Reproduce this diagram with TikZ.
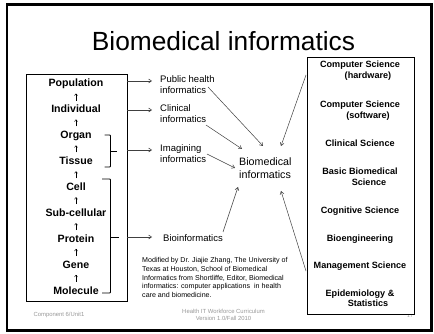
\documentclass[tikz,border=0pt]{standalone}
\usepackage{fontspec}
\setmainfont{Liberation Sans}
\usetikzlibrary{arrows.meta,calc}
\begin{document}
\begin{tikzpicture}[x=1pt,y=-1pt,
  lft/.style={font=\fontsize{10.6}{12}\selectfont\bfseries, inner sep=0pt, text height=7.6pt, text depth=2.2pt},
  upar/.style={-{Straight Barb[length=1.8pt,width=3pt]}, line width=0.45pt, shorten >=4.3pt, shorten <=4.3pt},
  mid/.style={font=\fontsize{9.5}{11.3}\selectfont, align=left, inner sep=0pt, anchor=north west},
  rgt/.style={font=\fontsize{9.1}{11}\selectfont\bfseries, align=center, inner sep=0pt, anchor=north},
  arr/.style={-{Straight Barb[length=3pt,width=4pt]}, line width=0.5pt, draw=black!75},
  brk/.style={line width=0.8pt, rounded corners=0.8pt},
  foot/.style={font=\fontsize{5.9}{7}\selectfont, text=black!40, inner sep=0pt}
]
\useasboundingbox (0,0) rectangle (434,334);
\fill[white] (0,0) rectangle (434,334);
\draw[line width=2.8pt] (7,4.7) rectangle (431.5,330.5);

% title
\node[font=\fontsize{26.3}{30}\selectfont, inner sep=0pt, anchor=base] (title) at (223.5,50.7) {Biomedical informatics};

% left box and levels
\node[draw, line width=0.8pt, minimum width=101pt, minimum height=227pt, inner sep=0pt] (lbox) at (76.5,187.5) {};
\node[lft] (pop) at (76,84.1) {Population};
\node[lft] (ind) at (76,110.0) {Individual};
\node[lft] (org) at (76,135.9) {Organ};
\node[lft] (tis) at (76,161.8) {Tissue};
\node[lft] (cel) at (76,187.7) {Cell};
\node[lft] (sub) at (76,213.6) {Sub-cellular};
\node[lft] (pro) at (76,239.5) {Protein};
\node[lft] (gen) at (76,265.4) {Gene};
\node[lft] (mol) at (76,291.3) {Molecule};
\draw[upar] (ind) -- (pop);
\draw[upar] (org) -- (ind);
\draw[upar] (tis) -- (org);
\draw[upar] (cel) -- (tis);
\draw[upar] (sub) -- (cel);
\draw[upar] (pro) -- (sub);
\draw[upar] (gen) -- (pro);
\draw[upar] (mol) -- (gen);

% brackets
\draw[brk] (104.5,135) -- (110.5,135) -- (110.5,167) -- (104.5,167);
\draw[line width=0.8pt] (110.5,151) -- (116.5,151);
\draw[brk] (102,179) -- (110.5,179) -- (110.5,293) -- (102,293);
\draw[line width=0.8pt] (110.5,237) -- (119,237);

% middle labels
\node[mid] (ph) at (160,75) {Public health\\informatics};
\node[mid] (cl) at (160,104) {Clinical\\informatics};
\node[mid] (im) at (160,144) {Imagining\\informatics};
\node[mid] (bio) at (163,234) {Bioinformatics};
\node[mid, font=\fontsize{10.7}{12.8}\selectfont] (bm) at (239,158) {Biomedical\\informatics};

% horizontal arrows
\coordinate (h1) at (152,81);
\coordinate (h2) at (152,110);
\coordinate (h3) at (152,150);
\coordinate (h4) at (152,237);
\draw[arr] (lbox.east |- h1) -- (h1);
\draw[arr] (lbox.east |- h2) -- (h2);
\draw[arr] (lbox.east |- h3) -- (h3);
\draw[arr] (lbox.east |- h4) -- (h4);

% credit
\node[font=\fontsize{7.1}{8.7}\selectfont, align=left, inner sep=0pt, anchor=north west] (cred) at (142,257.4)
 {Modified by Dr. Jiajie Zhang, The University of\\Texas at Houston, School of Biomedical\\Informatics from Shortliffe, Editor, Biomedical\\informatics: computer applications\ \ in health\\care and biomedicine.};

% footer
\node[foot, anchor=base] (f1) at (59,316) {Component 6/Unit1};
\node[foot, align=center, anchor=north] (f2) at (223.5,308.8) {Health IT Workforce Curriculum\\Version 1.0/Fall 2010};
\node[foot, font=\fontsize{5}{6}\selectfont, anchor=north] (pg) at (410,313.5) {17};

% right box
\node[draw, fill=white, line width=0.8pt, minimum width=107pt, minimum height=257pt, inner sep=0pt] (rbox) at (360.5,185.5) {};
\node[rgt] (r1) at (360,61) {Computer Science\\\hspace*{16pt}(hardware)};
\node[rgt] (r2) at (360,100.5) {Computer Science\\\hspace*{16pt}(software)};
\node[rgt] (r3) at (360,139.5) {Clinical Science};
\node[rgt] (r4) at (360,167.5) {Basic Biomedical\\\hspace*{18pt}Science};
\node[rgt] (r5) at (360,206.5) {Cognitive Science};
\node[rgt] (r6) at (360,234.5) {Bioengineering};
\node[rgt] (r7) at (360,261.5) {Management Science};
\node[rgt, font=\fontsize{9.1}{10.5}\selectfont\bfseries] (r8) at (360,289.5) {Epidemiology \&\\\hspace*{16pt}Statistics};

% arrows into biomedical informatics
\coordinate (s1) at (208,87);   \coordinate (t1) at (263,146);
\coordinate (s2) at (206,125);  \coordinate (t2) at (242,149);
\coordinate (s3) at (207,154);  \coordinate (t3) at (235,168);
\coordinate (s4) at (223,232);  \coordinate (t4) at (238,187);
\coordinate (s5) at (306,75);   \coordinate (t5) at (281,146);
\coordinate (s6) at (306,271);  \coordinate (t6) at (281,191);
\draw[arr] (s1) -- (t1);
\draw[arr] (s2) -- (t2);
\draw[arr] (s3) -- (t3);
\draw[arr] (s4) -- (t4);
\draw[arr] (s5) -- (t5);
\draw[arr] (s6) -- (t6);
\end{tikzpicture}
\end{document}
